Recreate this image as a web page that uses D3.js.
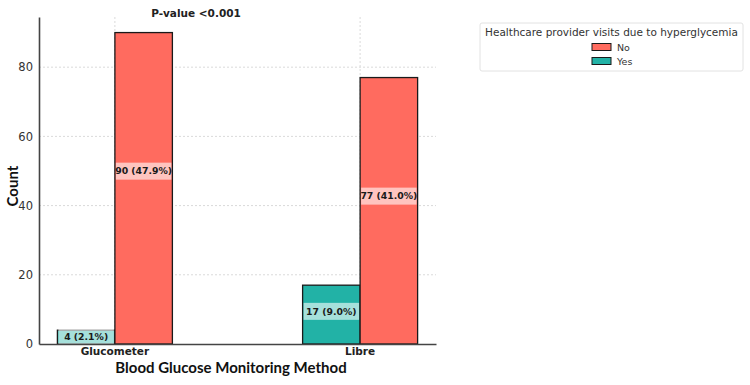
<!DOCTYPE html>
<html>
<head>
<meta charset="utf-8">
<script src="https://cdn.jsdelivr.net/npm/d3@7"></script>
<style>
  html, body { margin: 0; padding: 0; background: #fff; }
  svg { display: block; font-family: "DejaVu Sans", sans-serif; }
</style>
</head>
<body>
<div id="chart"></div>
<script>
// Data
const methods = ["Glucometer", "Libre"];
const visitGroups = ["Yes", "No"];
const countsYes = [4, 17];
const countsNo = [90, 77];
const pctYes = [2.1, 9.0];
const pctNo = [47.9, 41.0];
const yTicks = [0, 20, 40, 60, 80];
const legendOrder = ["No", "Yes"];

const colors = { No: "#ff6b5f", Yes: "#22b2a6" };

const width = 750, height = 385;
const margin = { top: 17, right: 314, bottom: 41, left: 39 };

const svg = d3.select("#chart").append("svg")
  .attr("width", width)
  .attr("height", height);

const rows = methods.map((m, i) => ({
  method: m,
  Yes: { count: countsYes[i], pct: pctYes[i] },
  No: { count: countsNo[i], pct: pctNo[i] },
}));

const x0 = d3.scaleBand()
  .domain(methods)
  .range([margin.left, width - margin.right])
  .paddingInner(0.531)
  .paddingOuter(0.075);

const x1 = d3.scaleBand()
  .domain(visitGroups)
  .range([0, x0.bandwidth()]);

const y = d3.scaleLinear()
  .domain([0, d3.max(countsNo) * 1.05])
  .range([height - margin.bottom, margin.top]);

// Grid (horizontal + vertical at categories), dotted
const grid = svg.append("g").attr("class", "grid");
grid.selectAll("line.h")
  .data(yTicks.filter((t) => t > 0))
  .join("line")
  .attr("x1", margin.left)
  .attr("x2", width - margin.right)
  .attr("y1", (d) => y(d))
  .attr("y2", (d) => y(d))
  .attr("stroke", "#dadada")
  .attr("stroke-width", 1)
  .attr("stroke-dasharray", "2,2");
grid.selectAll("line.v")
  .data(methods)
  .join("line")
  .attr("x1", (d) => x0(d) + x0.bandwidth() / 2)
  .attr("x2", (d) => x0(d) + x0.bandwidth() / 2)
  .attr("y1", margin.top)
  .attr("y2", height - margin.bottom)
  .attr("stroke", "#dadada")
  .attr("stroke-width", 1)
  .attr("stroke-dasharray", "2,2");

// Bars
const groups = svg.append("g")
  .selectAll("g")
  .data(rows)
  .join("g")
  .attr("transform", (d) => `translate(${x0(d.method)},0)`);

const bars = groups.selectAll("g.bar")
  .data((d) => visitGroups.map((k) => ({ key: k, ...d[k] })))
  .join("g")
  .attr("class", "bar");

bars.append("rect")
  .attr("x", (d) => x1(d.key))
  .attr("y", (d) => y(d.count))
  .attr("width", x1.bandwidth())
  .attr("height", (d) => y(0) - y(d.count))
  .attr("fill", (d) => colors[d.key])
  .attr("stroke", "#1a1a1a")
  .attr("stroke-width", 1.3);

// Value labels with translucent white box
const labelY = (d) => y(d.count * 0.555);
bars.append("rect")
  .attr("x", (d) => x1(d.key) + 1)
  .attr("y", (d) => labelY(d) - 8.5)
  .attr("width", x1.bandwidth() - 2)
  .attr("height", 17)
  .attr("fill", "#fff")
  .attr("opacity", 0.6);

bars.append("text")
  .attr("x", (d) => x1(d.key) + x1.bandwidth() / 2)
  .attr("y", labelY)
  .attr("dy", "0.35em")
  .attr("text-anchor", "middle")
  .attr("font-size", 9.3)
  .attr("font-weight", "bold")
  .attr("fill", "#1a1a1a")
  .text((d) => `${d.count} (${d.pct.toFixed(1)}%)`);

// Axes
const yAxis = svg.append("g")
  .attr("transform", `translate(${margin.left},0)`)
  .call(d3.axisLeft(y).tickValues(yTicks).tickSize(0).tickPadding(6));
yAxis.select(".domain").attr("stroke", "#444").attr("stroke-width", 1.6);
yAxis.selectAll("text")
  .attr("font-family", "DejaVu Sans, sans-serif")
  .attr("font-size", 11.5)
  .attr("fill", "#333");

const xAxis = svg.append("g")
  .attr("transform", `translate(0,${y(0)})`)
  .call(d3.axisBottom(x0).tickSize(0).tickPadding(4));
xAxis.select(".domain").attr("stroke", "#444").attr("stroke-width", 1.6);
xAxis.selectAll("text")
  .attr("font-family", "DejaVu Sans, sans-serif")
  .attr("font-size", 10.5)
  .attr("font-weight", "bold")
  .attr("fill", "#222");

// Axis titles
svg.append("text")
  .attr("x", 231)
  .attr("y", 373)
  .attr("text-anchor", "middle")
  .attr("font-family", "Lato, sans-serif")
  .attr("font-size", 15)
  .attr("font-weight", "bold")
  .attr("fill", "#111")
  .text("Blood Glucose Monitoring Method");

svg.append("text")
  .attr("transform", "translate(18,186) rotate(-90)")
  .attr("text-anchor", "middle")
  .attr("font-family", "Lato, sans-serif")
  .attr("font-size", 15)
  .attr("font-weight", "bold")
  .attr("fill", "#111")
  .text("Count");

// P-value annotation
svg.append("text")
  .attr("x", 196)
  .attr("y", 17)
  .attr("text-anchor", "middle")
  .attr("font-size", 10.5)
  .attr("font-weight", "bold")
  .attr("fill", "#222")
  .text("P-value <0.001");

// Legend
const legend = svg.append("g").attr("transform", "translate(480,23)");
legend.append("rect")
  .attr("width", 263)
  .attr("height", 48)
  .attr("rx", 2)
  .attr("fill", "#fff")
  .attr("stroke", "#e2e2e2");
legend.append("text")
  .attr("x", 131.5)
  .attr("y", 12.5)
  .attr("text-anchor", "middle")
  .attr("font-size", 10.5)
  .attr("fill", "#333")
  .text("Healthcare provider visits due to hyperglycemia");
const items = legend.selectAll("g.item")
  .data(legendOrder)
  .join("g")
  .attr("class", "item")
  .attr("transform", (_d, i) => `translate(112,${20.5 + i * 14})`);
items.append("rect")
  .attr("width", 19)
  .attr("height", 7)
  .attr("fill", (d) => colors[d])
  .attr("stroke", "#1a1a1a")
  .attr("stroke-width", 1);
items.append("text")
  .attr("x", 25)
  .attr("y", 4)
  .attr("dy", "0.35em")
  .attr("font-size", 9.5)
  .attr("fill", "#333")
  .text((d) => d);
</script>
</body>
</html>
